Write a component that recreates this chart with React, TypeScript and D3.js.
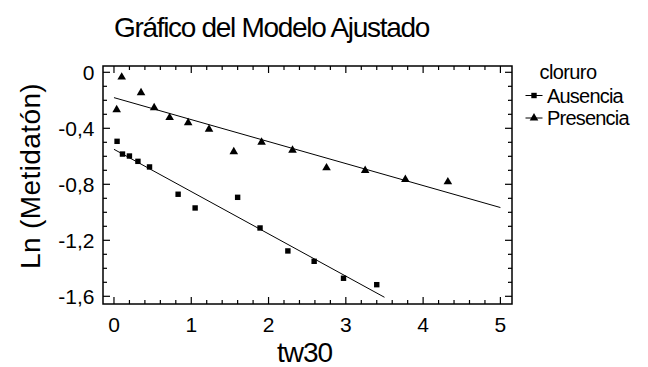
import React from "react";
import { scaleLinear, range, line, symbol, symbolTriangle } from "d3";

const width = 648;
const height = 367;

// plot frame
const frame = { left: 103, right: 512, top: 66, bottom: 304 };

// data
const ausenciaX = [0.04, 0.11, 0.2, 0.31, 0.46, 0.83, 1.05, 1.6, 1.89, 2.25, 2.59, 2.97, 3.4];
const ausenciaY = [-0.493, -0.584, -0.598, -0.636, -0.676, -0.871, -0.969, -0.893, -1.112, -1.276, -1.35, -1.471, -1.517];

const presenciaX = [0.035, 0.1, 0.35, 0.52, 0.72, 0.96, 1.23, 1.55, 1.91, 2.31, 2.75, 3.25, 3.77, 4.32];
const presenciaY = [-0.264, -0.031, -0.143, -0.25, -0.32, -0.357, -0.403, -0.564, -0.496, -0.553, -0.679, -0.698, -0.762, -0.779];

// fitted model lines: x range, intercept, slope
const ausenciaFit = { from: 0, to: 3.5, intercept: -0.55, slope: -0.302 };
const presenciaFit = { from: 0, to: 5, intercept: -0.181, slope: -0.157 };

const xTickLabels = ["0", "1", "2", "3", "4", "5"];
const xTickValues = [0, 1, 2, 3, 4, 5];
const yTickLabels = ["0", "-0,4", "-0,8", "-1,2", "-1,6"];
const yTickValues = [0, -0.4, -0.8, -1.2, -1.6];

const legendTitle = "cloruro";
const legendLabels = ["Ausencia", "Presencia"];

const font = "'Liberation Sans', Arial, sans-serif";

const xScale = scaleLinear().domain([-0.142, 5.15]).range([frame.left, frame.right]);
const yScale = scaleLinear().domain([0.045, -1.655]).range([frame.top, frame.bottom]);

const fitPath = (f: { from: number; to: number; intercept: number; slope: number }) =>
  line<number>()
    .x((d) => xScale(d))
    .y((d) => yScale(f.intercept + f.slope * d))([f.from, f.to]);

const triangle = symbol().type(symbolTriangle).size(32)() as string;

const Square = ({ x, y }: { x: number; y: number }) => (
  <rect x={x - 2.7} y={y - 2.7} width={5.4} height={5.4} fill="#000" />
);
const Tri = ({ x, y }: { x: number; y: number }) => (
  <path d={triangle} transform={`translate(${x},${y + 0.5})`} fill="#000" />
);

export default function App() {
  const xMinor = range(0, 5.0001, 0.2);
  const yMinor = range(0, -1.6001, -0.1);
  const isMajorX = (v: number) => Math.abs(v - Math.round(v)) < 1e-6;
  const isMajorY = (v: number) => Math.abs(v * 2.5 - Math.round(v * 2.5)) < 1e-6;

  return (
    <svg
      width={width}
      height={height}
      style={{ position: "absolute", left: 0, top: 0, background: "#fff" }}
      fontFamily={font}
    >
      <rect width={width} height={height} fill="#fff" />

      {/* title */}
      <text x={271.5} y={37} fontSize={28} textAnchor="middle" letterSpacing={-1.3} fill="#000">
        Gráfico del Modelo Ajustado
      </text>

      {/* frame */}
      <rect
        x={frame.left}
        y={frame.top}
        width={frame.right - frame.left}
        height={frame.bottom - frame.top}
        fill="none"
        stroke="#000"
        strokeWidth={1.5}
      />

      {/* x ticks (bottom and top, inward) */}
      {xMinor.map((v, i) => {
        const len = isMajorX(v) ? 7 : 4;
        const x = xScale(v);
        return (
          <g key={`xt${i}`} stroke="#000" strokeWidth={1.2}>
            <line x1={x} x2={x} y1={frame.bottom} y2={frame.bottom - len} />
            <line x1={x} x2={x} y1={frame.top} y2={frame.top + len} />
          </g>
        );
      })}
      {/* y ticks (left and right, inward) */}
      {yMinor.map((v, i) => {
        const len = isMajorY(v) ? 7 : 4;
        const y = yScale(v);
        return (
          <g key={`yt${i}`} stroke="#000" strokeWidth={1.2}>
            <line x1={frame.left} x2={frame.left + len} y1={y} y2={y} />
            <line x1={frame.right} x2={frame.right - len} y1={y} y2={y} />
          </g>
        );
      })}

      {xTickValues.map((v, i) => (
        <text key={`xl${i}`} x={xScale(v)} y={331.5} fontSize={21} textAnchor="middle" fill="#000">
          {xTickLabels[i]}
        </text>
      ))}
      {yTickValues.map((v, i) => (
        <text key={`yl${i}`} x={94.5} y={yScale(v) + 7.5} fontSize={21} textAnchor="end" fill="#000">
          {yTickLabels[i]}
        </text>
      ))}

      {/* axis titles */}
      <text x={304.5} y={361.5} fontSize={28} textAnchor="middle" letterSpacing={-1} fill="#000">
        tw30
      </text>
      <text
        transform="translate(39.5,176) rotate(-90)"
        fontSize={28}
        textAnchor="middle"
        letterSpacing={0.4}
        fill="#000"
      >
        Ln (Metidatón)
      </text>

      {/* fitted lines */}
      <path d={fitPath(ausenciaFit) || ""} fill="none" stroke="#000" strokeWidth={1} />
      <path d={fitPath(presenciaFit) || ""} fill="none" stroke="#000" strokeWidth={1} />

      {/* points */}
      {ausenciaX.map((v, i) => (
        <Square key={`a${i}`} x={xScale(v)} y={yScale(ausenciaY[i])} />
      ))}
      {presenciaX.map((v, i) => (
        <Tri key={`p${i}`} x={xScale(v)} y={yScale(presenciaY[i])} />
      ))}

      {/* legend */}
      <text x={539.5} y={78.5} fontSize={20} letterSpacing={-0.6} fill="#000">
        {legendTitle}
      </text>
      {legendLabels.map((lab, i) => {
        const y = 95.5 + i * 22.5;
        return (
          <g key={lab}>
            <line x1={525.5} x2={542.5} y1={y} y2={y} stroke="#000" strokeWidth={1} />
            {i === 0 ? <Square x={534} y={y} /> : <Tri x={534} y={y - 0.5} />}
            <text x={547} y={y + 7} fontSize={20} letterSpacing={-0.8} fill="#000">
              {lab}
            </text>
          </g>
        );
      })}
    </svg>
  );
}
